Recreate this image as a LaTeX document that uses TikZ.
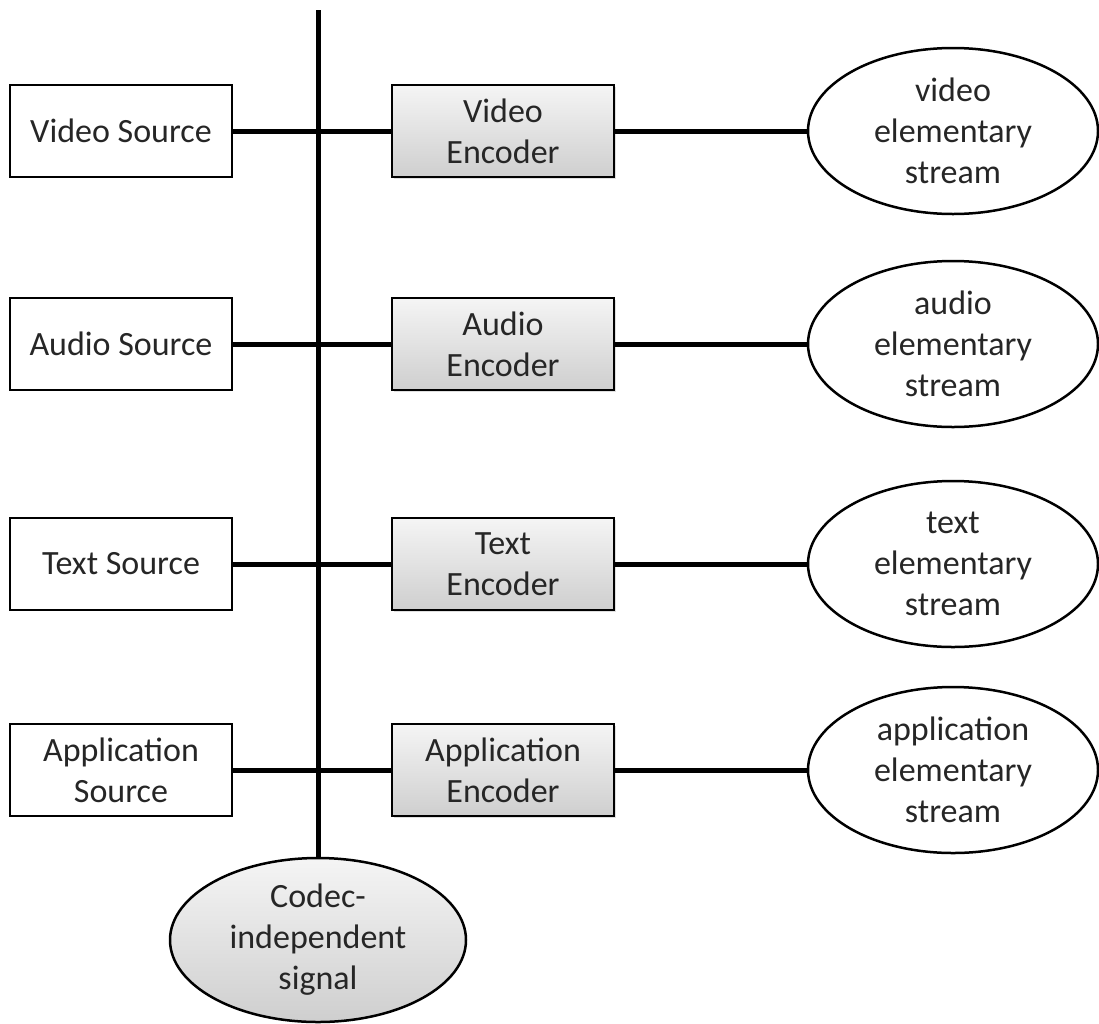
\documentclass[tikz,border=0pt]{standalone}
\usepackage{fontspec}
\setmainfont{Carlito}
\usetikzlibrary{shapes.geometric,shadows}

\tikzset{
  srcbox/.style={draw, line width=2.5pt, rectangle, minimum width=222pt, minimum height=92pt,
    align=center, inner sep=0pt, text=black!85},
  encbox/.style={srcbox, top color=gray!8, bottom color=gray!38,
    drop shadow={shadow xshift=2pt, shadow yshift=-2pt, opacity=0.25}},
  stream/.style={draw, line width=2.5pt, ellipse, minimum width=290pt, minimum height=166pt,
    align=center, inner sep=0pt, text=black!85},
  link/.style={line width=5pt}
}

\begin{document}
\begin{tikzpicture}[x=1pt, y=-1pt, font=\fontsize{34}{41}\selectfont]
    \useasboundingbox (0,0) rectangle (1099,1023);

    % Quellen links
    \node[srcbox] (vsrc) at (121,131) {Video Source};
    \node[srcbox] (asrc) at (121,344) {Audio Source};
    \node[srcbox] (tsrc) at (121,564) {Text Source};
    \node[srcbox] (psrc) at (121,770) {Application\\Source};

    % Encoder (grau)
    \node[encbox] (venc) at (503,131) {Video\\Encoder};
    \node[encbox] (aenc) at (503,344) {Audio\\Encoder};
    \node[encbox] (tenc) at (503,564) {Text\\Encoder};
    \node[encbox] (penc) at (503,770) {Application\\Encoder};

    % Elementarstroeme rechts
    \node[stream] (vstr) at (953,131) {video\\elementary\\stream};
    \node[stream] (astr) at (953,344) {audio\\elementary\\stream};
    \node[stream] (tstr) at (953,564) {text\\elementary\\stream};
    \node[stream] (pstr) at (953,770) {application\\elementary\\stream};

    % Codec-unabhaengiges Signal unten
    \node[stream, top color=gray!8, bottom color=gray!38, minimum width=296pt, minimum height=164pt]
      (codec) at (318,940) {Codec-\\independent\\signal};

    % Bus
    \coordinate (bustop) at (318,10);
    \draw[link] (bustop) -- (codec);

    % Verbindungen
    \draw[link] (vsrc) -- (venc);
    \draw[link] (asrc) -- (aenc);
    \draw[link] (tsrc) -- (tenc);
    \draw[link] (psrc) -- (penc);
    \draw[link] (venc) -- (vstr);
    \draw[link] (aenc) -- (astr);
    \draw[link] (tenc) -- (tstr);
    \draw[link] (penc) -- (pstr);
\end{tikzpicture}
\end{document}
